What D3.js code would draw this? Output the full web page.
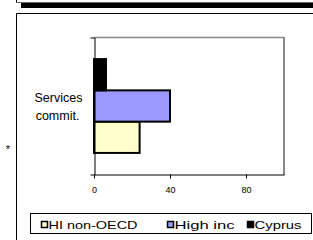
<!DOCTYPE html>
<html>
<head>
<meta charset="utf-8">
<script src="https://cdn.jsdelivr.net/npm/d3@7"></script>
<style>
  body { margin: 0; background: #fff; }
  svg { display: block; font-family: Arial, "Liberation Sans", sans-serif; }
</style>
</head>
<body>
<svg id="chart" width="313" height="240"></svg>
<script>
var categories = ['Services commit.']
var series = ['HI non-OECD', 'High inc', 'Cyprus']
var values = [24, 40, 6.3]
var colors = ['#ffffcc', '#9999ff', '#000000']
var xTicks = [0, 40, 80]

var svg = d3.select('#chart')

// frame bits at the top and the outer box
svg.append('line').attr('x1', 16.5).attr('y1', 0).attr('x2', 16.5).attr('y2', 2.5).attr('stroke', '#000')
svg.append('line').attr('x1', 16).attr('y1', 2.5).attr('x2', 313).attr('y2', 2.5).attr('stroke', '#666')
svg.append('rect').attr('x', 21).attr('y', 3).attr('width', 292).attr('height', 5).attr('fill', '#000')
svg.append('line').attr('x1', 16.5).attr('y1', 13.5).attr('x2', 313).attr('y2', 13.5).attr('stroke', '#000')
svg.append('line').attr('x1', 16.5).attr('y1', 13.5).attr('x2', 16.5).attr('y2', 240).attr('stroke', '#000')

var x = d3.scaleLinear().domain([0, 100]).range([94, 284])
var y = d3.scaleBand().domain(categories).range([37, 175])
var y1 = d3.scaleBand().domain(series.slice().reverse())
           .range([y.bandwidth() * 0.16, y.bandwidth() * 0.84])

// plot area border (gray top and right)
svg.append('line')
   .attr('x1', x(0)).attr('y1', 37.5).attr('x2', x(100)).attr('y2', 37.5)
   .attr('stroke', '#888').attr('stroke-width', 1.5)
svg.append('line')
   .attr('x1', x(100)).attr('y1', 37).attr('x2', x(100)).attr('y2', 175)
   .attr('stroke', '#888').attr('stroke-width', 2)

var rows = series.map((s, i) => ({name: s, value: values[i], color: colors[i]}))

svg.append('g').selectAll('rect')
   .data(rows)
   .enter()
   .append('rect')
   .attr('x', x(0))
   .attr('y', d => y(categories[0]) + y1(d.name))
   .attr('width', d => x(d.value) - x(0))
   .attr('height', y1.bandwidth())
   .attr('fill', d => d.color)
   .attr('stroke', '#000')
   .attr('stroke-width', 2)

// x axis
var xAxis = svg.append('g')
   .attr('transform', 'translate(0,174.5)')
   .call(d3.axisBottom(x).tickValues(xTicks).tickSize(4).tickSizeOuter(0))
xAxis.select('.domain').attr('stroke', '#000')
xAxis.selectAll('text').attr('y', 12).attr('font-size', '9px').attr('fill', '#000')
   .attr('font-family', 'Arial, "Liberation Sans", sans-serif')

// y axis with category boundary ticks
var yEdge = d3.scaleLinear().domain([0, 1]).range([174.5, 37.5])
var yAxis = svg.append('g')
   .attr('transform', 'translate(94.5,0)')
   .call(d3.axisLeft(yEdge).tickValues([0, 1]).tickSize(4).tickSizeOuter(0).tickFormat(''))
yAxis.select('.domain').attr('stroke', '#000')

// category label
var lbl = svg.append('text')
   .attr('text-anchor', 'middle')
   .attr('font-size', '12.5px')
   .attr('fill', '#000')
lbl.append('tspan').attr('x', 58.5).attr('y', 102.3).text('Services')
lbl.append('tspan').attr('x', 57.5).attr('y', 120).text('commit.')

svg.append('text').attr('x', 8).attr('y', 153).attr('text-anchor', 'middle')
   .attr('font-size', '11px').attr('fill', '#000').text('*')

// legend
svg.append('rect').attr('x', 30.5).attr('y', 213.5).attr('width', 281).attr('height', 20)
   .attr('fill', '#fff').attr('stroke', '#000')

var legX = [41.5, 167.5, 247.5]
var legW = [89, 60, 47]
var leg = svg.append('g').selectAll('g')
   .data(rows)
   .enter()
   .append('g')
   .attr('transform', (d, i) => 'translate(' + legX[i] + ',0)')
leg.append('rect')
   .attr('x', 0).attr('y', 221.5).attr('width', 6).attr('height', 6)
   .attr('fill', d => d.color).attr('stroke', '#000').attr('stroke-width', 1.5)
leg.append('text')
   .attr('x', 7).attr('y', 228.7)
   .attr('font-size', '10.5px')
   .attr('textLength', (d, i) => legW[i])
   .attr('lengthAdjust', 'spacingAndGlyphs')
   .text(d => d.name)
</script>
</body>
</html>
